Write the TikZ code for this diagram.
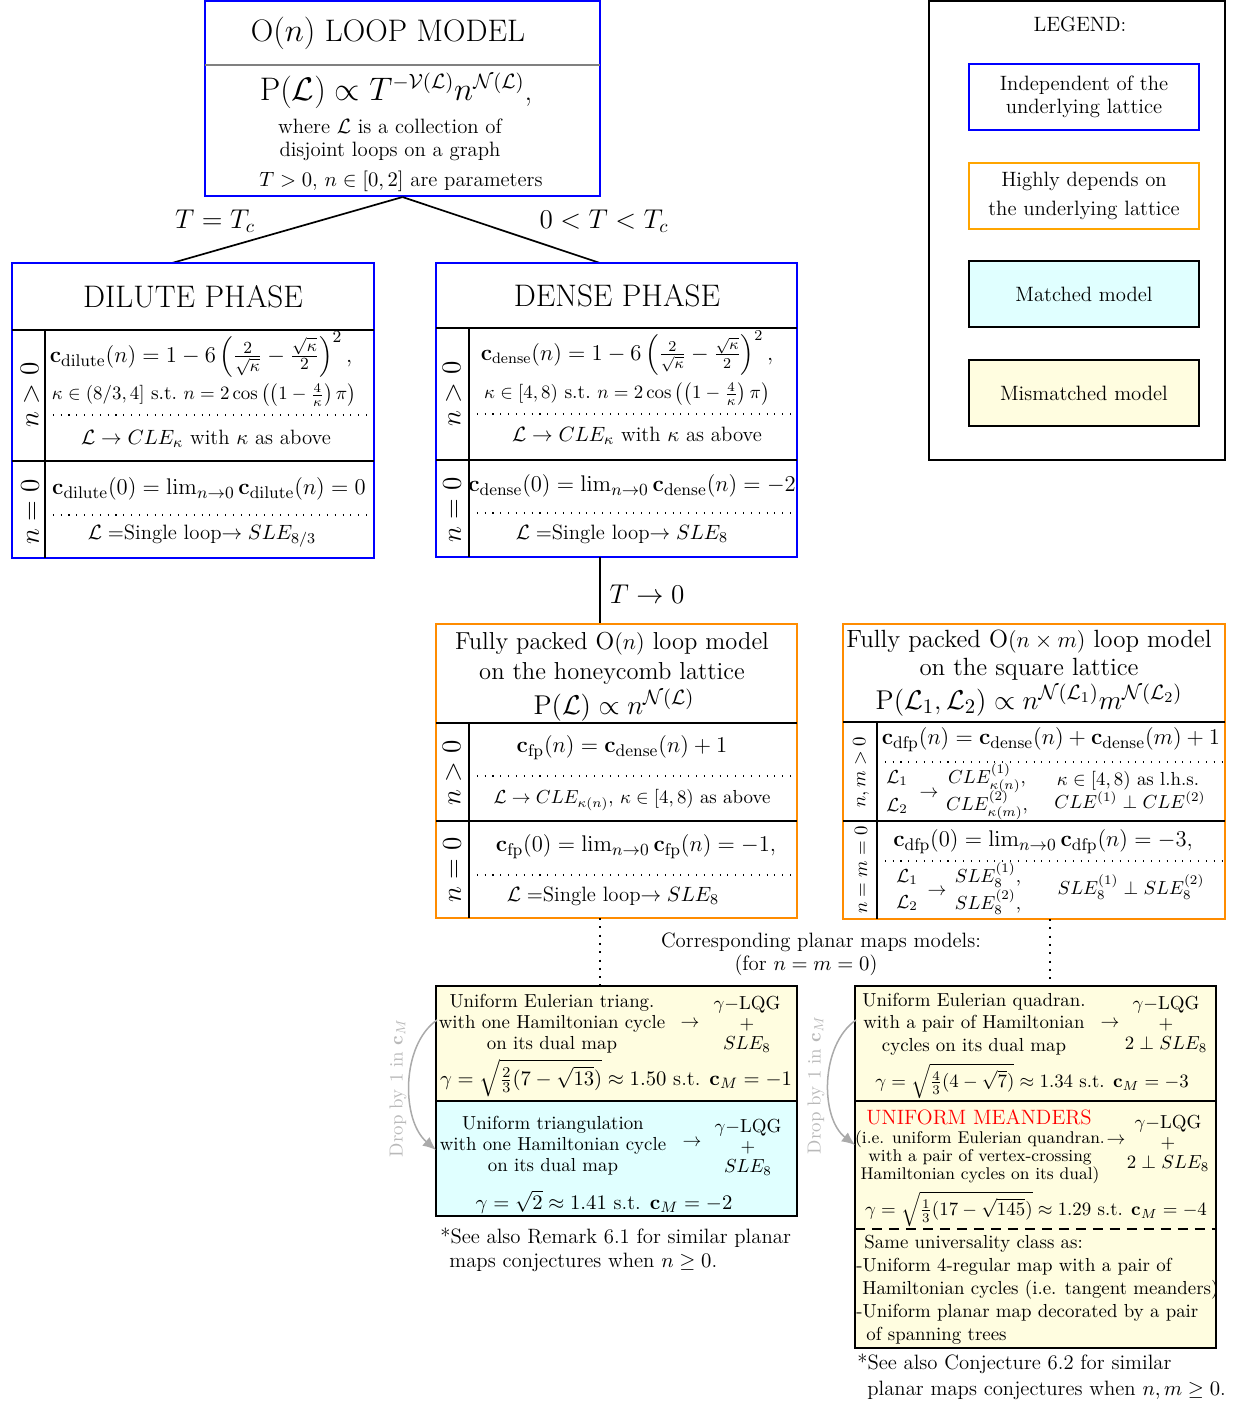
\documentclass[tikz,border=0pt]{standalone}
\usepackage{amsmath}
\usetikzlibrary{fit,arrows.meta}
\definecolor{cblue}{RGB}{0,0,255}
\definecolor{corange}{RGB}{255,140,0}
\definecolor{clegor}{RGB}{255,165,0}
\definecolor{cyel}{RGB}{255,253,224}
\definecolor{ccyan}{RGB}{224,255,255}
\definecolor{cdrop}{RGB}{170,170,170}
\definecolor{cdroptxt}{RGB}{185,185,185}
\tikzset{
  bluebox/.style={draw=cblue, line width=1.1pt, inner sep=0pt},
  orangebox/.style={draw=corange, line width=1.1pt, inner sep=0pt},
  mapfill/.style={draw=black, line width=1pt, inner sep=0pt},
  mapframe/.style={draw=black, line width=1.4pt, inner sep=0pt},
  legframe/.style={draw=black, line width=0.9pt, inner sep=0pt},
  legbox/.style={line width=1.1pt, inner sep=0pt},
  sep/.style={line width=0.8pt},
  sepgray/.style={line width=0.8pt, draw=gray},
  dotsep/.style={line width=0.55pt, dash pattern=on 0.55pt off 3.6pt},
  dashsep/.style={line width=0.6pt, dash pattern=on 5.3pt off 3.7pt},
  conn/.style={line width=0.9pt},
  dotconn/.style={line width=1.1pt, dash pattern=on 1.1pt off 3.3pt},
  droparrow/.style={draw=cdrop, line width=0.8pt, -{Latex[length=7pt,width=6pt]}},
  droptxt/.style={text=cdroptxt, font=\fontsize{10}{12}\selectfont},
  txt/.style={inner sep=0pt, align=center},
  ltxt/.style={inner sep=0pt, anchor=west},
  rot/.style={rotate=90},
  fa/.style={font=\fontsize{9}{11}\selectfont},
  fb/.style={font=\fontsize{10}{12}\selectfont},
  fc/.style={font=\fontsize{11}{13}\selectfont},
  fd/.style={font=\fontsize{12.3}{15}\selectfont},
  fe/.style={font=\fontsize{13}{15.9}\selectfont},
  ff/.style={font=\fontsize{15}{18}\selectfont},
  fg/.style={font=\fontsize{16.5}{19}\selectfont},
  fh/.style={font=\fontsize{14.5}{17}\selectfont},
  fform/.style={font=\fontsize{15.8}{18}\selectfont},
  lqg/.style={font=\fontsize{10}{10.6}\selectfont},
  mtxt/.style={font=\fontsize{10}{11.2}\selectfont},
}
\begin{document}
\begin{tikzpicture}[x=0.53pt,y=-0.53pt]
\useasboundingbox (0,0) rectangle (1238,1405);

% ---------------- top box
\node[bluebox, fit={(205,1) (600,196)}] (top) {};
\draw[sepgray] (205,65) -- (600,65);
\node[txt, fg] (toptitle) at (388,33) {O$(n)$ LOOP MODEL};
\node[txt, font=\fontsize{16.1}{19}\selectfont] (topform) at (396,91) {$\mathrm{P}(\mathcal{L})\propto T^{-\mathcal{V}(\mathcal{L})}n^{\mathcal{N}(\mathcal{L})}$,};
\node[txt, font=\fontsize{11}{12.3}\selectfont] (topdesc) at (390,140) {where $\mathcal{L}$ is a collection of\\disjoint loops on a graph};
\node[txt, fc] (topparam) at (401,181) {$T>0$, $n\in[0,2]$ are parameters};

\coordinate (dilin) at (172,263);
\coordinate (denin) at (600,263);
\draw[conn] (top.south) -- (dilin);
\draw[conn] (top.south) -- (denin);
\node[txt, fh] (lblTc) at (215,221) {$T=T_c$};
\node[txt, fh] (lblTd) at (604,221) {$0<T<T_c$};

% ---------------- dilute phase
\node[bluebox, fit={(12,263) (374,558)}] (dil) {};
\draw[sep] (12,330) -- (374,330);
\draw[sep] (45,330) -- (45,558);
\draw[sep] (12,461) -- (374,461);
\draw[dotsep] (45,415) -- (372,415);
\draw[dotsep] (45,515) -- (372,515);
\node[txt, fg] (diltitle) at (193,297) {DILUTE PHASE};
\node[txt, rot, ff] (dilpos) at (30,395) {$n>0$};
\node[txt, rot, ff] (dilzero) at (30,512) {$n=0$};
\node[txt, fd] (dilc) at (201,354) {$\mathbf{c}_{\mathrm{dilute}}(n)=1-6\left(\frac{2}{\sqrt{\kappa}}-\frac{\sqrt{\kappa}}{2}\right)^2,$};
\node[txt, font=\fontsize{10.3}{12}\selectfont] (dilk) at (204,395) {$\kappa\in(8/3,4]$ s.t.\ $n=2\cos\left(\left(1-\frac{4}{\kappa}\right)\pi\right)$};
\node[txt, fc] (dilcle) at (206,439) {$\mathcal{L}\to CLE_\kappa$ with $\kappa$ as above};
\node[txt, fd] (dilc0) at (209,489) {$\mathbf{c}_{\mathrm{dilute}}(0)=\lim_{n\to0}\mathbf{c}_{\mathrm{dilute}}(n)=0$};
\node[txt, fc] (dilsle) at (202,536) {$\mathcal{L}=$Single loop$\to SLE_{8/3}$};

% ---------------- dense phase
\node[bluebox, fit={(436,263) (797,557)}] (den) {};
\draw[sep] (436,328) -- (797,328);
\draw[sep] (469,328) -- (469,557);
\draw[sep] (436,460) -- (797,460);
\draw[dotsep] (469,414) -- (795,414);
\draw[dotsep] (469,513) -- (795,513);
\node[txt, fg] (dentitle) at (617,296) {DENSE PHASE};
\node[txt, rot, ff] (denpos) at (452,394) {$n>0$};
\node[txt, rot, ff] (denzero) at (452,510) {$n=0$};
\node[txt, font=\fontsize{11.8}{14}\selectfont] (denc) at (627,353) {$\mathbf{c}_{\mathrm{dense}}(n)=1-6\left(\frac{2}{\sqrt{\kappa}}-\frac{\sqrt{\kappa}}{2}\right)^2,$};
\node[txt, font=\fontsize{10.4}{12}\selectfont] (denk) at (627,394) {$\kappa\in[4,8)$ s.t.\ $n=2\cos\left(\left(1-\frac{4}{\kappa}\right)\pi\right)$};
\node[txt, fc] (dencle) at (637,436) {$\mathcal{L}\to CLE_\kappa$ with $\kappa$ as above};
\node[txt, fd] (denc0) at (632,486) {$\mathbf{c}_{\mathrm{dense}}(0)=\lim_{n\to0}\mathbf{c}_{\mathrm{dense}}(n)=-2$};
\node[txt, fc] (densle) at (622,534) {$\mathcal{L}=$Single loop$\to SLE_8$};

\coordinate (denout) at (600,557);
\coordinate (fphin) at (600,624);
\draw[conn] (denout) -- (fphin);
\node[txt, fh] (lblT0) at (647,594) {$T\to0$};

% ---------------- fully packed honeycomb
\node[orangebox, fit={(436,624) (797,918)}] (fph) {};
\draw[sep] (436,723) -- (797,723);
\draw[sep] (469,723) -- (469,918);
\draw[sep] (436,821) -- (797,821);
\draw[dotsep] (469,776) -- (795,776);
\draw[dotsep] (469,875) -- (795,875);
\node[txt, fe] (fphtitle) at (612,658) {Fully packed O$(n)$ loop model\\on the honeycomb lattice};
\node[txt, fform] (fphform) at (614,705) {$\mathrm{P}(\mathcal{L})\propto n^{\mathcal{N}(\mathcal{L})}$};
\node[txt, rot, ff] (fphpos) at (452,773) {$n>0$};
\node[txt, rot, ff] (fphzero) at (452,870) {$n=0$};
\node[txt, fd] (fphc) at (622,748) {$\mathbf{c}_{\mathrm{fp}}(n)=\mathbf{c}_{\mathrm{dense}}(n)+1$};
\node[txt, fb] (fphcle) at (632,800) {$\mathcal{L}\to CLE_{\kappa(n)}$, $\kappa\in[4,8)$ as above};
\node[txt, fd] (fphc0) at (636,847) {$\mathbf{c}_{\mathrm{fp}}(0)=\lim_{n\to0}\mathbf{c}_{\mathrm{fp}}(n)=-1,$};
\node[txt, fc] (fphsle) at (613,896) {$\mathcal{L}=$Single loop$\to SLE_8$};

% ---------------- fully packed square
\node[orangebox, fit={(843,624) (1225,919)}] (fsq) {};
\draw[sep] (843,722) -- (1225,722);
\draw[sep] (877,722) -- (877,919);
\draw[sep] (843,821) -- (1225,821);
\draw[dotsep] (877,762) -- (1223,762);
\draw[dotsep] (877,861) -- (1223,861);
\node[txt, font=\fontsize{13.2}{14.8}\selectfont] (fsqtitle) at (1029,655) {Fully packed O$(n\times m)$ loop model\\on the square lattice};
\node[txt, fform] (fsqform) at (1029,700) {$\mathrm{P}(\mathcal{L}_1,\mathcal{L}_2)\propto n^{\mathcal{N}(\mathcal{L}_1)}m^{\mathcal{N}(\mathcal{L}_2)}$};
\node[txt, rot, fb] (fsqpos) at (861,772) {$n,m>0$};
\node[txt, rot, fb] (fsqzero) at (861,870) {$n=m=0$};
\node[txt, fd] (fsqc) at (1051,740) {$\mathbf{c}_{\mathrm{dfp}}(n)=\mathbf{c}_{\mathrm{dense}}(n)+\mathbf{c}_{\mathrm{dense}}(m)+1$};
\node[txt, fb] (sqLa) at (897,778) {$\mathcal{L}_1$};
\node[txt, fb] (sqLb) at (897,806) {$\mathcal{L}_2$};
\node[txt, fb] (sqarr) at (929,794) {$\to$};
\node[txt, fb] (sqcleA) at (987,778) {$CLE^{(1)}_{\kappa(n)}$,};
\node[txt, fb] (sqcleB) at (987,805) {$CLE^{(2)}_{\kappa(m)}$,};
\node[txt, fb] (sqkap) at (1128,781) {$\kappa\in[4,8)$ as l.h.s.};
\node[txt, fb] (sqperp) at (1130,800) {$CLE^{(1)}\perp CLE^{(2)}$};
\node[txt, fd] (fsqc0) at (1043,842) {$\mathbf{c}_{\mathrm{dfp}}(0)=\lim_{n\to0}\mathbf{c}_{\mathrm{dfp}}(n)=-3,$};
\node[txt, fb] (sqLc) at (907,877) {$\mathcal{L}_1$};
\node[txt, fb] (sqLd) at (907,903) {$\mathcal{L}_2$};
\node[txt, fb] (sqarr2) at (937,892) {$\to$};
\node[txt, fb] (sqsleA) at (988,875) {$SLE^{(1)}_8$,};
\node[txt, fb] (sqsleB) at (988,902) {$SLE^{(2)}_8$,};
\node[txt, fb] (sqperp2) at (1131,887) {$SLE^{(1)}_8\perp SLE^{(2)}_8$};

% ---------------- dotted connectors and caption
\coordinate (fphout) at (600,918);
\coordinate (maplin) at (600,986);
\draw[dotconn] (fphout) -- (maplin);
\coordinate (fsqout) at (1050,919);
\coordinate (maprin) at (1050,986);
\draw[dotconn] (fsqout) -- (maprin);
\node[txt, fc] (corr1) at (821,942) {Corresponding planar maps models:};
\node[txt, fc] (corr2) at (806,965) {(for $n=m=0$)};

% ---------------- left planar maps box
\node[mapfill, fill=cyel, fit={(436,986) (797,1101)}] (mapl1) {};
\node[mapfill, fill=ccyan, fit={(436,1101) (797,1216)}] (mapl2) {};
\node[mapframe, fit={(436,986) (797,1216)}] (mapl) {};
\node[txt, mtxt] (ml1txt) at (552,1024) {Uniform Eulerian triang.\\with one Hamiltonian cycle\\on its dual map};
\node[txt, fb] (ml1arr) at (690,1024) {$\to$};
\node[txt, lqg] (ml1lqg) at (747,1024) {$\gamma-$LQG\\$+$\\$SLE_8$};
\node[txt, fc] (ml1gam) at (616,1078) {$\gamma=\sqrt{\frac{2}{3}(7-\sqrt{13})}\approx1.50$ s.t. $\mathbf{c}_M=-1$};
\node[txt, mtxt] (ml2txt) at (553,1146) {Uniform triangulation\\with one Hamiltonian cycle\\on its dual map};
\node[txt, fb] (ml2arr) at (692,1143) {$\to$};
\node[txt, lqg] (ml2lqg) at (748,1147) {$\gamma-$LQG\\$+$\\$SLE_8$};
\node[txt, fc] (ml2gam) at (604,1202) {$\gamma=\sqrt{2}\approx1.41$ s.t. $\mathbf{c}_M=-2$};
\node[ltxt, fc] (fnl1) at (440,1238) {*See also Remark 6.1 for similar planar};
\node[ltxt, fc] (fnl2) at (449,1262) {maps conjectures when $n\geq0$.};

\coordinate (dropLa) at (437,1020);
\coordinate (dropLb) at (436,1150);
\draw[droparrow] (dropLa) .. controls (401,1045) and (401,1120) .. (dropLb);
\node[txt, rot, droptxt] (dropLtxt) at (398,1088) {Drop by 1 in $\mathbf{c}_M$};

% ---------------- right planar maps box
\node[mapfill, fill=cyel, fit={(855,986) (1216,1101)}] (mapr1) {};
\node[mapfill, fill=cyel, fit={(855,1101) (1216,1348)}] (mapr2) {};
\node[mapframe, fit={(855,986) (1216,1348)}] (mapr) {};
\draw[dashsep] (855,1229) -- (1216,1229);
\node[txt, font=\fontsize{10}{12}\selectfont] (mr1txt) at (974,1024) {Uniform Eulerian quadran.\\with a pair of Hamiltonian\\cycles on its dual map};
\node[txt, fb] (mr1arr) at (1110,1024) {$\to$};
\node[txt, lqg] (mr1lqg) at (1166,1024) {$\gamma-$LQG\\$+$\\$2\perp SLE_8$};
\node[txt, fb] (mr1gam) at (1032,1081) {$\gamma=\sqrt{\frac{4}{3}(4-\sqrt{7})}\approx1.34$ s.t. $\mathbf{c}_M=-3$};
\node[txt, fc, text=red] (mrmeand) at (979,1117) {UNIFORM MEANDERS};
\node[txt, font=\fontsize{9}{9.4}\selectfont] (mr2txt) at (980,1157) {(i.e. uniform Eulerian quandran.\\with a pair of vertex-crossing\\Hamiltonian cycles on its dual)};
\node[txt, fb] (mr2arr) at (1116,1141) {$\to$};
\node[txt, lqg] (mr2lqg) at (1168,1143) {$\gamma-$LQG\\$+$\\$2\perp SLE_8$};
\node[txt, fb] (mr2gam) at (1036,1209) {$\gamma=\sqrt{\frac{1}{3}(17-\sqrt{145})}\approx1.29$ s.t. $\mathbf{c}_M=-4$};
\node[ltxt, fb] (univ1) at (864,1244) {Same universality class as:};
\node[ltxt, fb] (univ2) at (856,1267) {-Uniform 4-regular map with a pair of};
\node[ltxt, fb] (univ3) at (862,1290) {Hamiltonian cycles (i.e. tangent meanders)};
\node[ltxt, fb] (univ4) at (856,1313) {-Uniform planar map decorated by a pair};
\node[ltxt, fb] (univ5) at (866,1336) {of spanning trees};
\node[ltxt, fc] (fnr1) at (857,1364) {*See also Conjecture 6.2 for similar};
\node[ltxt, fc] (fnr2) at (867,1390) {planar maps conjectures when $n,m\geq0$.};

\coordinate (dropRa) at (856,1020);
\coordinate (dropRb) at (855,1145);
\draw[droparrow] (dropRa) .. controls (820,1045) and (820,1118) .. (dropRb);
\node[txt, rot, droptxt] (dropRtxt) at (816,1085) {Drop by 1 in $\mathbf{c}_M$};

% ---------------- legend
\node[legframe, fit={(929,1) (1225,460)}] (leg) {};
\node[txt, fc] (legtitle) at (1080,24) {LEGEND:};
\node[legbox, draw=cblue, fit={(969,64) (1199,130)}] (legb) {};
\node[txt, font=\fontsize{11}{12.3}\selectfont] (legbtxt) at (legb) {Independent of the\\underlying lattice};
\node[legbox, draw=clegor, fit={(969,163) (1199,229)}] (lego) {};
\node[txt, font=\fontsize{11}{15}\selectfont] (legotxt) at (lego) {Highly depends on\\the underlying lattice};
\node[legbox, draw=black, fill=ccyan, line width=1.3pt, fit={(969,261) (1199,327)}] (legc) {};
\node[txt, fc] (legctxt) at (legc) {Matched model};
\node[legbox, draw=black, fill=cyel, line width=1.3pt, fit={(969,360) (1199,426)}] (legy) {};
\node[txt, fc] (legytxt) at (legy) {Mismatched model};
\end{tikzpicture}
\end{document}
